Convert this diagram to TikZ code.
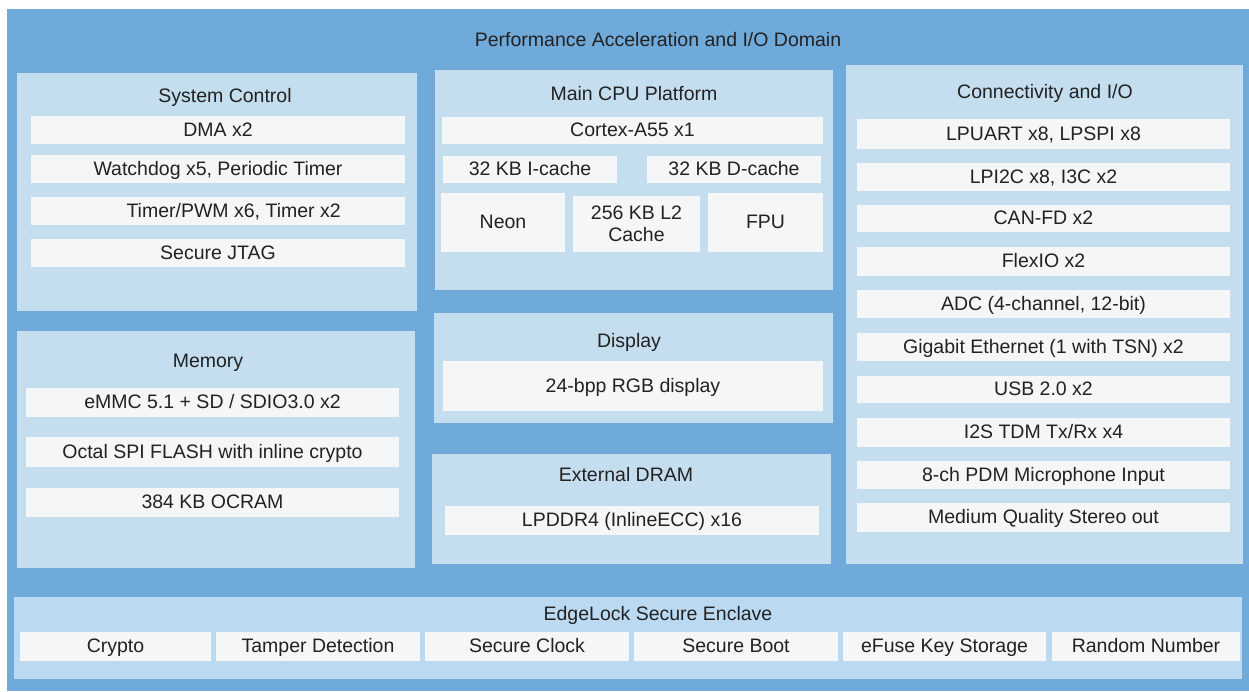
\documentclass[tikz,border=0pt]{standalone}
\usepackage{fontspec}
\setmainfont{Liberation Sans}
\usetikzlibrary{fit, positioning}
\definecolor{domainblue}{HTML}{6FAADB}
\definecolor{panelblue}{HTML}{C4DDEF}
\definecolor{enclaveblue}{HTML}{BBDAF2}
\definecolor{itemgray}{HTML}{F4F6F8}
\definecolor{textgray}{HTML}{222222}
\tikzstyle{domainbox} = [
    rectangle, fill=domainblue, inner sep=0pt
]
\tikzstyle{panel} = [
    rectangle, fill=panelblue, inner sep=0pt % light group box
]
\tikzstyle{enclave} = [
    rectangle, fill=enclaveblue, inner sep=0pt
]
\tikzstyle{cell} = [
    rectangle, fill=itemgray, inner sep=0pt,
    text=textgray, align=center
]
\tikzstyle{block} = [
    cell, text height=0.8em, text depth=0.1em % same baseline in every box
]
\tikzstyle{heading} = [
    text=textgray, inner sep=0pt, text height=0.8em, text depth=0.1em
]
\tikzset{sized/.style 2 args={minimum width=#1*0.02cm, minimum height=#2*0.02cm}}

\begin{document}
\begin{tikzpicture}[x=0.02cm, y=-0.02cm, font=\fontsize{11.1}{12.5}\selectfont]
        \useasboundingbox (0,0) rectangle (1249,691);

        % Outer domain
        \node[domainbox, fit={(7,9) (1249,691)}] (pacc) {};
        \node[heading] (pacctitle) at (658,40) {Performance Acceleration and I/O Domain};

        % System control
        \node[panel, fit={(17,73) (417,311)}] (sysctl) {};
        \node[heading] (sysctltitle) at (225,96) {System Control};
        \node[block, sized={374}{28}] (dma) at (218,130) {DMA x2};
        \node[block, sized={374}{28}] (wdog) at (218,169) {Watchdog x5, Periodic Timer};
        \node[block, sized={374}{28}] (tpm) at (218,211) {\hspace{1.6em}Timer/PWM x6, Timer x2};
        \node[block, sized={374}{28}] (jtag) at (218,253) {Secure JTAG};

        % Memory
        \node[panel, fit={(17,331) (415,568)}] (mem) {};
        \node[heading] (memtitle) at (208,361) {Memory};
        \node[block, sized={373}{29}] (emmc) at (212.5,402.5) {eMMC 5.1 + SD / SDIO3.0 x2};
        \node[block, sized={373}{30}] (ospi) at (212.5,452) {Octal SPI FLASH with inline crypto};
        \node[block, sized={373}{29}] (ocram) at (212.5,502.5) {384 KB OCRAM};

        % Main CPU platform
        \node[panel, fit={(435,70) (833,290)}] (cpu) {};
        \node[heading] (cputitle) at (634,94) {Main CPU Platform};
        \node[block, sized={381}{27}] (core) at (632.5,130.5) {Cortex-A55 x1};
        \node[block, sized={174}{27}] (icache) at (530,169.5) {32 KB I-cache};
        \node[block, sized={174}{27}] (dcache) at (734,169.5) {32 KB D-cache};
        \node[block, sized={124}{59}] (neon) at (503,222.5) {Neon};
        \node[cell, sized={127}{56}] (ltwo) at (636.5,224) {256 KB L2\\Cache};
        \node[block, sized={115}{59}] (fpu) at (765.5,222.5) {FPU};

        % Display
        \node[panel, fit={(434,313) (833,423)}] (disp) {};
        \node[heading] (disptitle) at (629,341) {Display};
        \node[block, sized={380}{50}] (rgb) at (633,386) {24-bpp RGB display};

        % External DRAM
        \node[panel, fit={(432,454) (831,564)}] (dram) {};
        \node[heading] (dramtitle) at (626,475) {External DRAM};
        \node[block, sized={374}{29}] (lpddr) at (632,520.5) {LPDDR4 (InlineECC) x16};

        % Connectivity and I/O
        \node[panel, fit={(846,65) (1243,564)}] (conn) {};
        \node[heading] (conntitle) at (1045,92) {Connectivity and I/O};
        \node[block, sized={373}{30}] (uart) at (1043.5,134) {LPUART x8, LPSPI x8};
        \node[block, sized={373}{28}] (itwoc) at (1043.5,177) {LPI2C x8, I3C x2};
        \node[block, sized={373}{27}] (can) at (1043.5,218.5) {CAN-FD x2};
        \node[block, sized={373}{29}] (flexio) at (1043.5,261.5) {FlexIO x2};
        \node[block, sized={373}{28}] (adc) at (1043.5,304) {ADC (4-channel, 12-bit)};
        \node[block, sized={373}{28}] (enet) at (1043.5,347) {Gigabit Ethernet (1 with TSN) x2};
        \node[block, sized={373}{27}] (usb) at (1043.5,389.5) {USB 2.0 x2};
        \node[block, sized={373}{29}] (itwos) at (1043.5,432.5) {I2S TDM Tx/Rx x4};
        \node[block, sized={373}{28}] (pdm) at (1043.5,475) {8-ch PDM Microphone Input};
        \node[block, sized={373}{29}] (stereo) at (1043.5,517.5) {Medium Quality Stereo out};

        % EdgeLock secure enclave
        \node[enclave, fit={(14,597) (1242,679)}] (ele) {};
        \node[heading] (eletitle) at (658,614) {EdgeLock Secure Enclave};
        \node[block, sized={191}{29}] (crypto) at (115.5,646.5) {Crypto};
        \node[block, sized={204}{29}] (tamper) at (318,646.5) {Tamper Detection};
        \node[block, sized={204}{29}] (sclock) at (527,646.5) {Secure Clock};
        \node[block, sized={204}{29}] (sboot) at (736,646.5) {Secure Boot};
        \node[block, sized={203}{29}] (efuse) at (944.5,646.5) {eFuse Key Storage};
        \node[block, sized={188}{29}] (rng) at (1146,646.5) {Random Number};

    \end{tikzpicture}
\end{document}
